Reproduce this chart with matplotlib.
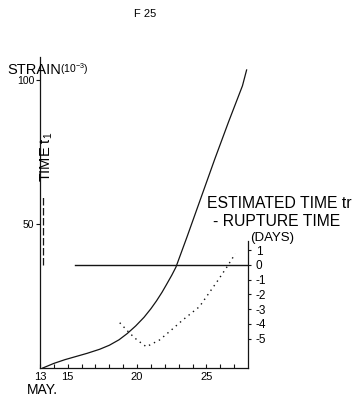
import matplotlib
matplotlib.use("Agg")
import matplotlib.pyplot as plt

plt.rcParams['font.family'] = ['Liberation Sans', 'DejaVu Sans']
plt.rcParams['mathtext.fontset'] = 'custom'
plt.rcParams['mathtext.rm'] = 'Liberation Sans'

# strain curve (days of May, strain in 1e-3)
strain_days = [13.2, 14.0, 14.8, 15.6, 16.4, 17.3, 18.0, 18.7, 19.3, 19.9,
               20.5, 21.0, 21.4, 21.8, 22.1, 22.5, 22.8, 23.6, 24.6, 25.6,
               26.6, 27.6, 27.9]
strain_vals = [0, 1.6, 2.9, 4.0, 5.1, 6.5, 7.9, 9.8, 12.0, 14.6,
               17.6, 20.6, 23.3, 26.3, 28.8, 32.2, 35.0, 45.5, 59.0, 72.5,
               85.5, 98.0, 103.5]

# estimated time tr - rupture time (days)
est_days = [18.75, 19.47, 20.0, 20.67, 21.62, 22.5, 23.3, 24.5, 25.2,
            25.8, 26.5, 27.08]
est_vals = [-3.93, -4.64, -5.1, -5.56, -5.1, -4.4, -3.74, -2.84, -1.9,
            -1.1, -0.12, 0.75]

# zero line of the right axis and the "TIME t1" marker
zero_days = [15.5, 28.0]
zero_vals = [0, 0]
t1_day = [13.2, 13.2]
t1_strain = [35.9, 59.6]

x_major = [13, 15, 20, 25]
x_minor = list(range(14, 28))
left_ticks = [50, 100]
right_ticks = [1, 0, -1, -2, -3, -4, -5]
right_labels = ['1', '0', '-1', '-2', '-3', '-4', '-5']

W, H = 360, 401
ink = '#141414'


def px(x, y):
    return x / W, 1 - y / H


fig = plt.figure(figsize=(W / 100, H / 100), dpi=100)
ax = fig.add_axes([40 / W, 33 / H, 208 / W, 311 / H])

ax.plot(strain_days, strain_vals, color=ink, lw=0.9)
ax.plot(t1_day, t1_strain, color=ink, lw=0.9, linestyle=(0, (6, 2)))
ax.set_xlim(13, 28)
ax.set_ylim(0, 108)

for s in ['top', 'right']:
    ax.spines[s].set_visible(False)
for s in ['left', 'bottom']:
    ax.spines[s].set_linewidth(0.9)
    ax.spines[s].set_color(ink)

ax.set_xticks(x_major)
ax.set_xticks(x_minor, minor=True)
ax.set_xticklabels([str(d) for d in x_major], fontsize=8)
ax.tick_params(axis='x', which='both', direction='in', length=3,
               width=0.8, color=ink, pad=3)
ax.set_yticks(left_ticks)
ax.set_yticklabels([str(v) for v in left_ticks], fontsize=7.5)
ax.tick_params(axis='y', direction='out', length=3, width=0.8,
               color=ink, pad=1)

# right axis: 14.7 px per day vs 2.87 px per strain unit
ax2 = ax.twinx()
ax2.set_ylim(-7.0, -7.0 + 108 / 5.12)
ax2.plot(est_days, est_vals, color=ink, lw=1.0, linestyle=(0, (1, 3)))
ax2.plot(zero_days, zero_vals, color=ink, lw=1.0)
for s in ['top', 'left', 'bottom']:
    ax2.spines[s].set_visible(False)
ax2.spines['right'].set_bounds(-7.0, 1.6)
ax2.spines['right'].set_linewidth(0.9)
ax2.spines['right'].set_color(ink)
ax2.set_yticks(right_ticks)
ax2.set_yticklabels(right_labels, fontsize=8.5)
ax2.tick_params(axis='y', direction='out', length=2.5, width=0.8,
                color=ink, pad=3)

fig.text(*px(145, 14), 'F 25', fontsize=8, ha='center', va='center')
fig.text(*px(7, 70), 'STRAIN', fontsize=10.5, ha='left', va='center')
fig.text(*px(60, 69), '(10$^{-3}$)', fontsize=7.5, ha='left', va='center')
fig.text(*px(47, 157), 'TIME t$_1$', fontsize=10.5, rotation=90,
         ha='center', va='center')
fig.text(*px(207, 203), 'ESTIMATED TIME tr', fontsize=11.3,
         ha='left', va='center')
fig.text(*px(213, 221), '- RUPTURE TIME', fontsize=11.3,
         ha='left', va='center')
fig.text(*px(250, 238), '(DAYS)', fontsize=9.5, ha='left', va='center')
fig.text(*px(27, 390), 'MAY.', fontsize=10, ha='left', va='center')

fig.savefig('out.png', dpi=100)
